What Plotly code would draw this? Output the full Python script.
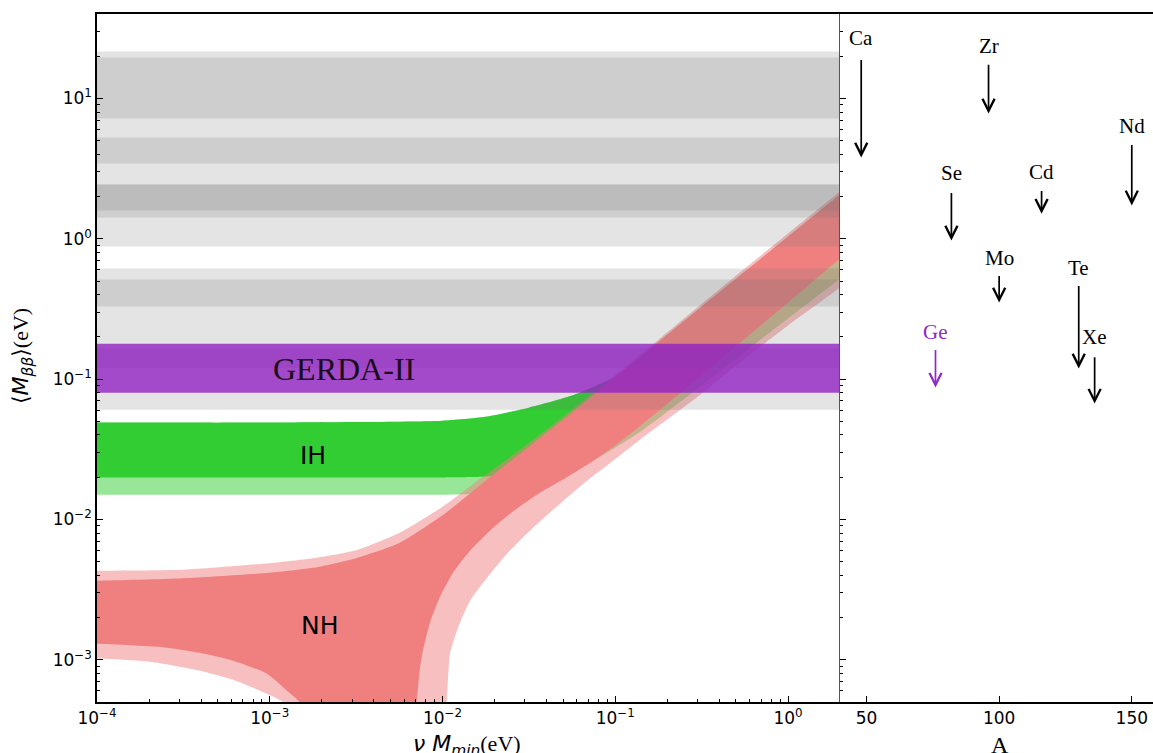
import numpy as np
import plotly.graph_objects as go

# ---------------- axis ranges / ticks ----------------
x_range = [1e-4, 2.0]        # nu M_min (eV)
y_range = [5e-4, 40.0]       # <M_bb> (eV)
A_range = [40, 158]          # mass number A

x_ticks = [1e-4, 1e-3, 1e-2, 1e-1, 1.0]
x_ticktext = ["10<sup>−4</sup>", "10<sup>−3</sup>", "10<sup>−2</sup>", "10<sup>−1</sup>", "10<sup>0</sup>"]
y_ticks = [1e-3, 1e-2, 1e-1, 1.0, 10.0]
y_ticktext = ["10<sup>−3</sup>", "10<sup>−2</sup>", "10<sup>−1</sup>", "10<sup>0</sup>", "10<sup>1</sup>"]
A_ticks = [50, 100, 150]
x_minor = [m * 10.0 ** e for e in range(-4, 1) for m in range(2, 10)] + [2.0]
y_minor = [m * 10.0 ** e for e in range(-4, 2) for m in range(2, 10)]

# ---------------- inverted hierarchy (IH) ----------------
ih_x = [5e-5, 1e-4, 1e-3, 3.162e-3, 1e-2, 1.778e-2, 3.162e-2, 5.623e-2, 0.1, 0.1778, 0.3162, 0.5623, 1.0, 2.0, 3.0]
ih_upper = [0.0490, 0.0490, 0.0490, 0.0494, 0.0506, 0.0540, 0.0626, 0.0763, 0.104, 0.181, 0.324, 0.575, 1.02, 2.04, 3.05]
ih1_lower = [0.0199, 0.0199, 0.0199, 0.0199, 0.0199, 0.0202, 0.0223, 0.0285, 0.0429, 0.0726, 0.131, 0.237, 0.421, 0.838, 1.26]
ih3_lower_x = [5e-5, 1e-4, 1e-3, 1e-2, 1.778e-2, 3.162e-2, 5.623e-2, 0.0816, 0.139, 0.3095, 0.5623, 1.0, 2.0, 3.0]
ih3_lower = [0.0150, 0.0150, 0.0150, 0.0150, 0.0153, 0.0170, 0.0222, 0.0280, 0.0420, 0.0884, 0.157, 0.270, 0.521, 0.78]

# ---------------- normal hierarchy (NH) ----------------
nh_x = [5e-5, 1e-4, 3.162e-4, 1e-3, 1.778e-3, 3.162e-3, 5.623e-3, 1e-2, 1.778e-2, 3.162e-2, 5.623e-2,
        0.1, 0.1778, 0.3162, 0.5623, 1.0, 2.0, 3.0]
nh3_upper = [0.00431, 0.00431, 0.00438, 0.00488, 0.00529, 0.00604, 0.00801, 0.0123, 0.0208, 0.0351, 0.0606,
             0.107, 0.191, 0.343, 0.614, 1.09, 2.17, 3.26]
nh1_upper = [0.00366, 0.00366, 0.00381, 0.00417, 0.00452, 0.00530, 0.00679, 0.0107, 0.0189, 0.0330, 0.0577,
             0.1025, 0.184, 0.329, 0.584, 1.04, 2.07, 3.10]

# lower edges, right branch (from large mass down into the funnel)
nh3_lowR_x = [3.0, 2.0, 1.0, 0.5623, 0.3095, 0.1390, 0.09705, 0.06863, 0.04789, 0.03341, 0.02363, 0.01810,
              0.01443, 0.01229, 0.01105, 0.010575, 0.010067, 0.009672]
nh3_lowR_y = [0.674, 0.449, 0.241, 0.140, 0.0770, 0.0370, 0.0262, 0.0189, 0.01295, 0.00873, 0.00570, 0.00384,
              0.00263, 0.00169, 0.00110, 0.000494, 0.000265, 0.0000991]
nh1_lowR_x = [3.0, 2.0, 1.0, 0.5623, 0.3095, 0.1390, 0.09968, 0.07142, 0.05256, 0.03667, 0.02560, 0.01884,
              0.01443, 0.01150, 0.009672, 0.008468, 0.007508, 0.007090, 0.006839, 0.006571]
nh1_lowR_y = [1.085, 0.723, 0.351, 0.194, 0.104, 0.0462, 0.0336, 0.0252, 0.0200, 0.0155, 0.0114, 0.00832,
              0.00599, 0.00417, 0.00281, 0.00184, 0.000984, 0.000494, 0.000265, 0.0000991]
# lower edges, left branch (from the funnel bottom back to small mass)
nh3_lowL_x = [2.145e-3, 1.757e-3, 1.209e-3, 8.78e-4, 6.128e-4, 3.946e-4, 2.026e-4, 1e-4, 5e-5]
nh3_lowL_y = [0.0000991, 0.000265, 0.000494, 0.000601, 0.000720, 0.000835, 0.000968, 0.00102, 0.00102]
nh1_lowL_x = [2.232e-3, 1.929e-3, 1.497e-3, 1.259e-3, 9.64e-4, 6.128e-4, 3.946e-4, 2.542e-4, 1e-4, 5e-5]
nh1_lowL_y = [0.0000991, 0.000265, 0.000494, 0.000601, 0.000795, 0.000984, 0.00112, 0.00122, 0.00130, 0.00130]

# ---------------- experimental bands ----------------
band_lo = [3.44, 7.20, 1.59, 0.880, 1.42, 0.329, 0.120, 0.0606]
band_hi = [19.6, 21.6, 5.27, 2.44, 2.44, 0.614, 0.512, 0.165]
gerda_lo, gerda_hi = 0.0801, 0.179

# ---------------- isotope limits (right panel) ----------------
iso_names = ["Ca", "Zr", "Nd", "Se", "Cd", "Mo", "Te", "Xe", "Ge"]
iso_A = [48, 96, 150, 82, 116, 100, 130, 136, 76]
iso_tail = [19.3, 17.8, 4.78, 2.17, 2.25, 0.556, 0.472, 0.147, 0.165]
iso_tip = [3.80, 7.82, 1.73, 0.972, 1.51, 0.351, 0.119, 0.0669, 0.0870]
iso_label = [26.8, 23.5, 6.32, 2.94, 2.97, 0.735, 0.624, 0.198, 0.215]

# ---------------- styles ----------------
C_IH1 = "rgb(50,205,50)"
C_IH3 = "rgba(50,205,50,0.5)"
C_NH1 = "rgb(240,128,128)"
C_NH3 = "rgba(240,128,128,0.5)"
C_BAND = "rgba(110,110,110,0.19)"
C_GERDA = "rgba(145,35,195,0.8)"
C_GE = "rgb(145,40,200)"

fig = go.Figure()


def add_region(xs, ys, color):
    fig.add_trace(go.Scatter(x=xs, y=ys, mode="lines", fill="toself", fillcolor=color,
                             line=dict(width=0, shape="spline", smoothing=0.6),
                             hoverinfo="skip", showlegend=False, xaxis="x", yaxis="y"))


# IH regions
add_region(ih_x + ih3_lower_x[::-1], ih_upper + ih3_lower[::-1], C_IH3)
add_region(ih_x + ih_x[::-1], ih_upper + ih1_lower[::-1], C_IH1)
# NH regions
add_region(nh_x + nh3_lowR_x + nh3_lowL_x, nh3_upper + nh3_lowR_y + nh3_lowL_y, C_NH3)
add_region(nh_x + nh1_lowR_x + nh1_lowL_x, nh1_upper + nh1_lowR_y + nh1_lowL_y, C_NH1)

# experimental bands across the full mass range
bx0, bx1 = x_range[0] / 2, x_range[1] * 1.5
for lo, hi in zip(band_lo, band_hi):
    fig.add_trace(go.Scatter(x=[bx0, bx1, bx1, bx0], y=[lo, lo, hi, hi], mode="lines", fill="toself",
                             fillcolor=C_BAND, line=dict(width=0), hoverinfo="skip", showlegend=False))
fig.add_trace(go.Scatter(x=[bx0, bx1, bx1, bx0], y=[gerda_lo, gerda_lo, gerda_hi, gerda_hi], mode="lines",
                         fill="toself", fillcolor=C_GERDA, line=dict(width=0), hoverinfo="skip", showlegend=False))

# invisible trace so the right panel exists
fig.add_trace(go.Scatter(x=[A_range[0]], y=[y_range[0]], mode="markers", marker=dict(opacity=0),
                         hoverinfo="skip", showlegend=False, xaxis="x2", yaxis="y2"))

ann = []
serif = "Liberation Serif"
sans = "DejaVu Sans"

# in-plot labels
ann.append(dict(x=np.log10(2.69e-3), y=np.log10(0.119), xref="x", yref="y", text="GERDA-II", showarrow=False,
                xanchor="center", yanchor="middle", font=dict(family=serif, size=32, color="#1a0a1a")))
ann.append(dict(x=np.log10(1.78e-3), y=np.log10(0.0285), xref="x", yref="y", text="IH", showarrow=False,
                xanchor="center", yanchor="middle", font=dict(family=sans, size=25, color="black")))
ann.append(dict(x=np.log10(1.95e-3), y=np.log10(0.00175), xref="x", yref="y", text="NH", showarrow=False,
                xanchor="center", yanchor="middle", font=dict(family=sans, size=25, color="black")))

# isotope arrows
for name, A, tail, tip, lab in zip(iso_names, iso_A, iso_tail, iso_tip, iso_label):
    col = C_GE if name == "Ge" else "black"
    ann.append(dict(x=A, y=np.log10(tip), ax=A, ay=np.log10(tail), xref="x2", yref="y2", axref="x2", ayref="y2",
                    text="", showarrow=True, arrowhead=5, arrowsize=1.4, arrowwidth=1.7, arrowcolor=col,
                    standoff=0, startstandoff=0))
    ann.append(dict(x=A, y=np.log10(lab), xref="x2", yref="y2", text=name, showarrow=False,
                    xanchor="center", yanchor="middle", font=dict(family=serif, size=21, color=col)))

# axis titles
W, H = 1056.0, 688.0
ann.append(dict(x=(467 - 97) / W, y=(702 - 745) / H, xref="paper", yref="paper", showarrow=False,
                text='<span style="font-family:DejaVu Sans"><i>ν M<sub>min</sub></i></span>(eV)',
                font=dict(family=serif, size=22, color="black"), xanchor="center", yanchor="middle"))
ann.append(dict(x=(22 - 97) / W, y=(702 - 356) / H, xref="paper", yref="paper", showarrow=False, textangle=-90,
                text='<span style="font-family:DejaVu Sans">⟨<i>M<sub>ββ</sub></i>⟩</span>(eV)',
                font=dict(family=serif, size=22, color="black"), xanchor="center", yanchor="middle"))
ann.append(dict(x=(1000 - 97) / W, y=(702 - 745) / H, xref="paper", yref="paper", showarrow=False, text="A",
                font=dict(family=serif, size=24, color="black"), xanchor="center", yanchor="middle"))

tickfont = dict(family=sans, size=17, color="black")
xsplit = (840 - 97) / W
ylog = [np.log10(y_range[0]), np.log10(y_range[1])]

fig.update_layout(
    width=1153, height=753,
    margin=dict(l=97, r=0, t=14, b=51),
    paper_bgcolor="white", plot_bgcolor="white",
    showlegend=False,
    annotations=ann,
    xaxis=dict(type="log", range=[np.log10(x_range[0]), np.log10(x_range[1])], domain=[0, xsplit], anchor="y",
               showline=True, linecolor="black", linewidth=1.5, mirror=True,
               ticks="inside", ticklen=6, tickwidth=1, tickcolor="black",
               tickmode="array", tickvals=x_ticks, ticktext=x_ticktext, tickfont=tickfont,
               minor=dict(tickmode="array", tickvals=x_minor, ticks="inside", ticklen=3, tickcolor="black",
                          showgrid=False),
               showgrid=False, zeroline=False),
    yaxis=dict(type="log", range=ylog, domain=[0, 1], anchor="x",
               showline=True, linecolor="black", linewidth=1.5, mirror=False,
               ticks="inside", ticklen=6, tickwidth=1, tickcolor="black",
               tickmode="array", tickvals=y_ticks, ticktext=y_ticktext, tickfont=tickfont,
               minor=dict(tickmode="array", tickvals=y_minor, ticks="inside", ticklen=3, tickcolor="black",
                          showgrid=False),
               showgrid=False, zeroline=False),
    xaxis2=dict(range=A_range, domain=[xsplit, 1], anchor="y2",
                showline=True, linecolor="black", linewidth=1.5, mirror=True,
                ticks="inside", ticklen=6, tickwidth=1, tickcolor="black",
                tickmode="array", tickvals=A_ticks, tickfont=tickfont,
                showgrid=False, zeroline=False),
    yaxis2=dict(type="log", range=ylog, domain=[0, 1], anchor="x2",
                showline=True, linecolor="#555555", linewidth=1, mirror=False,
                ticks="inside", ticklen=6, tickwidth=1, tickcolor="black",
                tickmode="array", tickvals=y_ticks, showticklabels=False,
                minor=dict(tickmode="array", tickvals=y_minor, ticks="inside", ticklen=3, tickcolor="black",
                           showgrid=False),
                showgrid=False, zeroline=False),
)

fig.write_html("out.html", config={"displayModeBar": False},
               post_script="document.body.style.margin='0px';document.body.style.padding='0px';"
                           "document.documentElement.style.overflow='hidden';")
